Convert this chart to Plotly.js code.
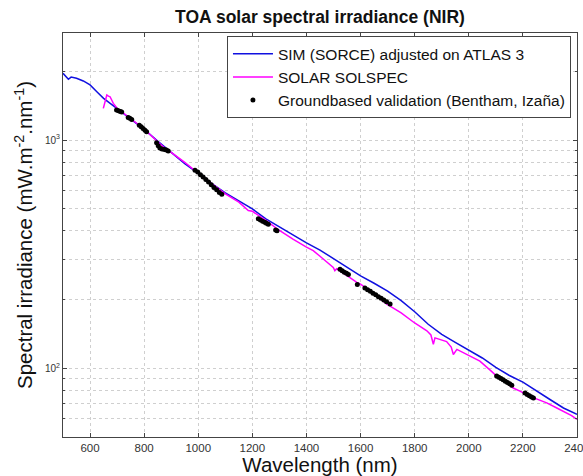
<!DOCTYPE html>
<html>
<head>
<meta charset="utf-8">
<script src="https://cdn.plot.ly/plotly-3.0.1.min.js"></script>
<style>html,body{margin:0;padding:0;background:#fff;}#chart{width:583px;height:476px;}</style>
</head>
<body>
<div id="chart"></div>
<script>
// SIM (SORCE) adjusted on ATLAS 3
const simWl  = [500, 520, 530, 550, 575, 600, 625, 650, 700, 750, 800, 850, 900, 950, 1000, 1050, 1100, 1150, 1200, 1250, 1300, 1350, 1400, 1450, 1500, 1550, 1600, 1650, 1700, 1750, 1800, 1850, 1900, 1950, 2000, 2050, 2100, 2150, 2200, 2250, 2300, 2350, 2400];
const simIrr = [1965, 1850, 1890, 1869, 1818, 1746, 1631, 1526, 1375, 1240, 1115, 990, 880, 790, 715, 645, 588, 540, 500, 452, 416, 385, 355, 330, 303, 277, 254, 236, 218, 198, 177, 156, 141, 130, 120, 111, 101, 93, 87, 80, 73, 67, 62.8];

// SOLAR SOLSPEC
const solWl  = [649, 655, 662, 668, 674, 680, 686, 700, 750, 800, 850, 880, 900, 950, 1000, 1050, 1100, 1150, 1185, 1200, 1250, 1300, 1350, 1400, 1425, 1450, 1475, 1499, 1505, 1512, 1550, 1586, 1600, 1650, 1697, 1750, 1800, 1845, 1860, 1869, 1875, 1900, 1918, 1935, 1943, 1956, 1980, 2000, 2041, 2080, 2103, 2130, 2164, 2189, 2220, 2250, 2288, 2320, 2349, 2380, 2400];
const solIrr = [1379, 1480, 1578, 1560, 1550, 1500, 1450, 1380, 1245, 1120, 985, 915, 885, 800, 715, 642, 582, 535, 492, 488, 445, 402, 368, 340, 328, 310, 292, 277, 268, 273, 255, 238, 234, 212, 191, 175, 158, 146, 140, 127.5, 136, 133, 131, 124, 115, 121, 117, 114, 107.6, 98, 92.5, 88, 82, 79.4, 76, 73.5, 70.6, 67.5, 64.9, 62, 59.7];

// Groundbased validation (Bentham, Izaña)
const gbWl  = [698, 705, 712, 717, 741, 747, 754, 782, 789, 796, 803, 809, 846, 852, 858, 866, 875, 882, 889, 988, 998, 1008, 1018, 1028, 1038, 1048, 1058, 1068, 1078, 1087, 1222, 1230, 1238, 1246, 1252, 1259, 1286, 1291, 1524, 1532, 1540, 1548, 1555, 1588, 1616, 1626, 1636, 1646, 1656, 1666, 1676, 1686, 1696, 1709, 2103, 2111, 2119, 2127, 2135, 2143, 2151, 2159, 2208, 2216, 2224, 2232, 2239];
const gbIrr = [1355, 1345, 1335, 1328, 1258, 1247, 1233, 1164, 1145, 1125, 1105, 1088, 975, 945, 925, 915, 910, 905, 897, 738, 725, 706, 690, 672, 655, 637, 620, 606, 590, 579, 453, 447, 441, 437, 432, 428, 404, 401, 272, 268, 264, 261, 258, 233, 225, 221, 217.5, 213.5, 210, 206, 203, 199.5, 196, 191.5, 92.6, 91.3, 90.2, 89, 87.8, 86.7, 85.5, 84.4, 77.9, 76.8, 75.8, 74.9, 74.2];

const xTicks = [600, 800, 1000, 1200, 1400, 1600, 1800, 2000, 2200, 2400];
const yMajor = [100, 1000];
const yMajorText = ['10<sup>2</sup>', '10<sup>3</sup>'];
const yMinor = [50, 60, 70, 80, 90, 200, 300, 400, 500, 600, 700, 800, 900, 2000];

const FONT = 'Liberation Sans, Arial, sans-serif';

const traces = [
  {x: simWl, y: simIrr, type: 'scatter', mode: 'lines', name: 'SIM (SORCE) adjusted on ATLAS 3',
   line: {color: '#1010e0', width: 1.5}, legendgroup: 'a'},
  {x: solWl, y: solIrr, type: 'scatter', mode: 'lines', name: 'SOLAR SOLSPEC',
   line: {color: '#ff00ff', width: 1.5}, legendgroup: 'b'},
  {x: gbWl, y: gbIrr, type: 'scatter', mode: 'markers', name: 'Groundbased validation (Bentham, Izaña)',
   marker: {color: '#000', size: 5}, legendgroup: 'c'}
];

const layout = {
  width: 583, height: 476,
  margin: {l: 63, r: 6, t: 33, b: 39},
  paper_bgcolor: '#fff', plot_bgcolor: '#fff',
  font: {family: FONT, color: '#222'},
  title: {text: '<b>TOA solar spectral irradiance (NIR)</b>', font: {family: FONT, size: 17.5, color: '#111'},
          x: 0.5, xref: 'paper', xanchor: 'center', y: 1 - 17/476, yanchor: 'middle'},
  showlegend: true,
  legend: {x: 0.319, y: 0.992, xanchor: 'left', yanchor: 'top', bgcolor: '#fff',
           bordercolor: '#444', borderwidth: 1, font: {family: FONT, size: 15.5, color: '#111'},
           traceorder: 'grouped', tracegroupgap: 0, itemwidth: 40},
  xaxis: {range: [500, 2400], tickvals: xTicks, ticks: 'inside', ticklen: 4, tickcolor: '#444',
          ticklabeloverflow: 'allow',
          showline: true, linecolor: '#444', linewidth: 1, mirror: 'ticks',
          showgrid: true, gridcolor: '#cfcfcf', griddash: 'dot', gridwidth: 1, zeroline: false,
          tickfont: {family: FONT, size: 11.5, color: '#333'},
          title: {text: 'Wavelength (nm)', font: {family: FONT, size: 20.5, color: '#111'}, standoff: 2}},
  yaxis: {type: 'log', range: [Math.log10(50), Math.log10(2950)], tickmode: 'array', tickvals: yMajor, ticktext: yMajorText,
          ticks: 'inside', ticklen: 4, tickcolor: '#444',
          showline: true, linecolor: '#444', linewidth: 1, mirror: 'ticks',
          showgrid: true, gridcolor: '#cfcfcf', griddash: 'dot', gridwidth: 1, zeroline: false,
          tickfont: {family: FONT, size: 10, color: '#333'},
          minor: {tickmode: 'array', tickvals: yMinor, ticks: 'inside', ticklen: 2, tickcolor: '#444',
                  showgrid: true, gridcolor: '#cfcfcf', griddash: 'dot', gridwidth: 1},
          title: {text: 'Spectral irradiance (mW.m<sup>-2</sup>.nm<sup>-1</sup>)', font: {family: FONT, size: 20.5, color: '#111'}, standoff: 6}}
};

Plotly.newPlot('chart', traces, layout, {displayModeBar: false, staticPlot: true});
</script>
</body>
</html>
